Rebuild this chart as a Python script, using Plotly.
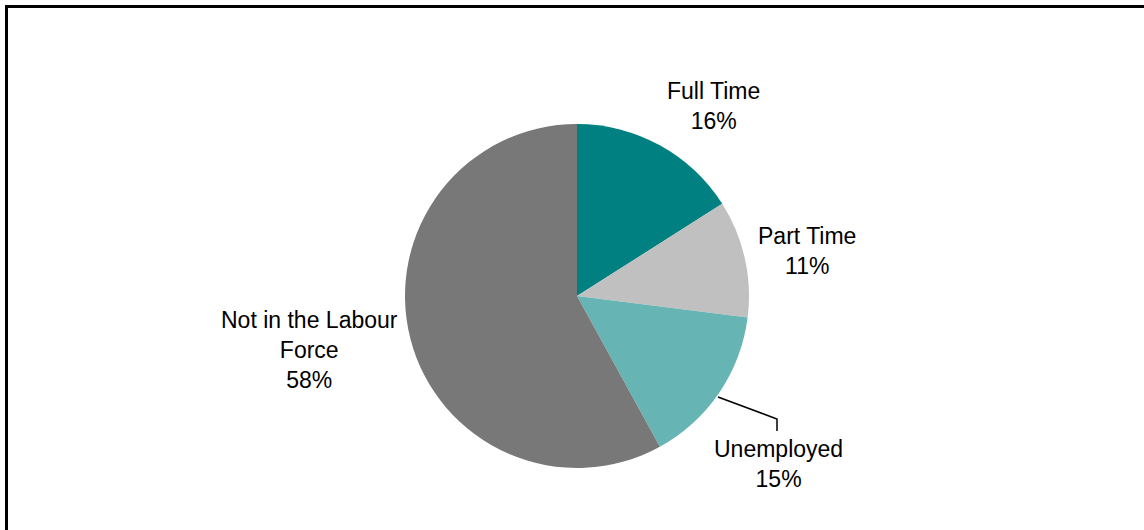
import plotly.graph_objects as go

W, H = 1144, 530

categories = ["Full Time", "Part Time", "Unemployed", "Not in the Labour Force"]
values = [16, 11, 15, 58]
label_text = ["Full Time<br>16%", "Part Time<br>11%", "Unemployed<br>15%", "Not in the Labour<br>Force<br>58%"]
colors = ["#008080", "#C0C0C0", "#66B4B4", "#787878"]

# label centres in pixels (layout)
label_pos_px = [(713, 106), (807, 251), (778, 464), (309, 350)]

def px(x, y):
    return x / W, 1 - y / H

cx, cy, r = 577, 296, 172

fig = go.Figure()
fig.add_trace(go.Pie(
    labels=categories,
    values=values,
    sort=False,
    direction="clockwise",
    rotation=0,
    marker=dict(colors=colors, line=dict(width=0)),
    textinfo="none",
    hoverinfo="label+percent",
    showlegend=False,
    domain=dict(x=[(cx - r) / W, (cx + r) / W], y=[1 - (cy + r) / H, 1 - (cy - r) / H]),
))

annotations = []
for t, (x, y) in zip(label_text, label_pos_px):
    ax, ay = px(x, y)
    annotations.append(dict(
        x=ax, y=ay, xref="paper", yref="paper", text=t, showarrow=False,
        xanchor="center", yanchor="middle", align="center",
        font=dict(family="Liberation Sans, Arial, sans-serif", size=23, color="#000000"),
    ))

shapes = []
# leader line for Unemployed
lx = [718, 777, 777]
ly = [397, 419, 431]
path = "M {} {} L {} {} L {} {}".format(*[v for p in zip(lx, ly) for v in px(*p)])
shapes.append(dict(type="path", path=path, xref="paper", yref="paper",
                   line=dict(color="#000000", width=1.5)))
# frame: top and left border
shapes.append(dict(type="line", xref="paper", yref="paper",
                   x0=px(5, 6.5)[0], y0=px(5, 6.5)[1], x1=px(1144, 6.5)[0], y1=px(1144, 6.5)[1],
                   line=dict(color="#000000", width=3)))
shapes.append(dict(type="line", xref="paper", yref="paper",
                   x0=px(6.5, 5)[0], y0=px(6.5, 5)[1], x1=px(6.5, 530)[0], y1=px(6.5, 530)[1],
                   line=dict(color="#000000", width=3)))

fig.update_layout(
    width=W, height=H,
    margin=dict(l=0, r=0, t=0, b=0),
    paper_bgcolor="white",
    plot_bgcolor="white",
    annotations=annotations,
    shapes=shapes,
)

fig.write_html("out.html")
